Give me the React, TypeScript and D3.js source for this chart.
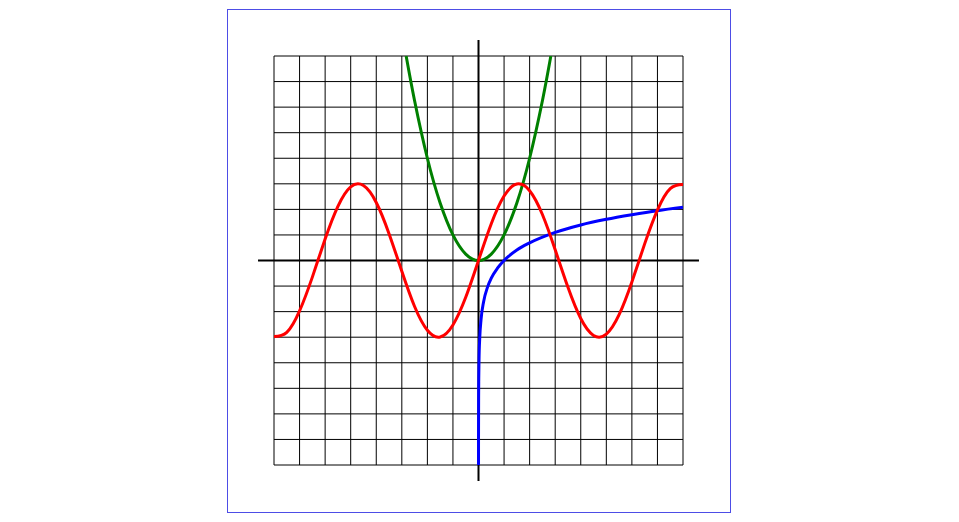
import React from 'react';
import * as d3 from 'd3';

// grid covers -8..8 on both axes, one line per unit
const gridTicks = d3.range(-8, 9);

// red wave (x, y)
const redX = [-8, -7.5, -7, -6.5, -6, -5.5, -5, -4.5, -4, -3.5, -3, -2.5, -2, -1.5, -1, -0.5, 0,
  0.5, 1, 1.5, 2, 2.5, 3, 3.5, 4, 4.5, 5, 5.5, 6, 6.5, 7, 7.5, 8];
const redY = [-2.97, -2.81, -1.97, -0.65, 0.84, 2.12, 2.88, 2.93, 2.27, 1.05, -0.42, -1.8, -2.73, -2.99, -2.52, -1.44, 0,
  1.44, 2.52, 2.99, 2.73, 1.8, 0.42, -1.05, -2.27, -2.93, -2.88, -2.12, -0.84, 0.65, 1.97, 2.81, 2.97];

// green parabola
const greenX = [-2.83, -2.5, -2, -1.5, -1, -0.5, 0, 0.5, 1, 1.5, 2, 2.5, 2.83];
const greenY = [8, 6.25, 4, 2.25, 1, 0.25, 0, 0.25, 1, 2.25, 4, 6.25, 8];

// blue log-like curve
const blueX = [0.0003, 0.001, 0.005, 0.01, 0.02, 0.05, 0.1, 0.2, 0.35, 0.5, 0.75, 1, 1.5, 2, 3, 4, 5, 6, 7, 8];
const blueY = [-8, -6.91, -5.3, -4.61, -3.91, -3.0, -2.3, -1.61, -1.05, -0.69, -0.29, 0, 0.41, 0.69, 1.1, 1.39, 1.61, 1.79, 1.95, 2.08];

const W = 959;
const H = 522;

const App: React.FC = () => {
  const x = d3.scaleLinear().domain([-8, 8]).range([274, 683]);
  const y = d3.scaleLinear().domain([-8, 8]).range([465, 56]);

  const pts = (xs: number[], ys: number[]) => xs.map((v, i) => [v, ys[i]] as [number, number]);

  const smooth = d3.line<[number, number]>()
    .x(d => x(d[0]))
    .y(d => y(d[1]))
    .curve(d3.curveNatural);

  const mono = d3.line<[number, number]>()
    .x(d => x(d[0]))
    .y(d => y(d[1]))
    .curve(d3.curveMonotoneX);

  return (
    <svg width={W} height={H} style={{ position: 'absolute', left: 0, top: 0 }}>
      <rect x={227.5} y={9.5} width={503} height={503} fill="white" stroke="#4d4de6" strokeWidth={1} />
      <defs>
        <clipPath id="plot">
          <rect x={x(-8)} y={y(8)} width={x(8) - x(-8)} height={y(-8) - y(8)} />
        </clipPath>
      </defs>
      <g stroke="black" strokeWidth={1}>
        {gridTicks.map(t => (
          <line key={'v' + t} x1={x(t)} x2={x(t)} y1={y(-8)} y2={y(8)} />
        ))}
        {gridTicks.map(t => (
          <line key={'h' + t} x1={x(-8)} x2={x(8)} y1={y(t)} y2={y(t)} />
        ))}
      </g>
      <g stroke="black" strokeWidth={2}>
        <line x1={x(-8.625)} x2={x(8.625)} y1={y(0)} y2={y(0)} />
        <line x1={x(0)} x2={x(0)} y1={y(8.625)} y2={y(-8.625)} />
      </g>
      <g clipPath="url(#plot)" fill="none" strokeWidth={3}>
        <path d={smooth(pts(greenX, greenY)) || ''} stroke="green" />
        <path d={mono(pts(blueX, blueY)) || ''} stroke="blue" />
        <path d={smooth(pts(redX, redY)) || ''} stroke="red" />
      </g>
    </svg>
  );
};

export default App;
